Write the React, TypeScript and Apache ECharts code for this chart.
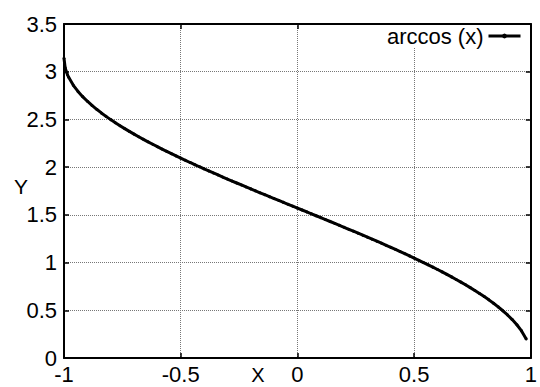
import React, { useEffect, useRef } from "react";
import * as echarts from "echarts";

const xValues: number[] = [
  -1.0, -0.995, -0.99, -0.985, -0.98, -0.96, -0.94, -0.92, -0.9, -0.88, -0.86, -0.84, -0.82,
  -0.8, -0.78, -0.76, -0.74, -0.72, -0.7, -0.68, -0.66, -0.64, -0.62,
  -0.6, -0.58, -0.56, -0.54, -0.52, -0.5, -0.48, -0.46, -0.44, -0.42,
  -0.4, -0.38, -0.36, -0.34, -0.32, -0.3, -0.28, -0.26, -0.24, -0.22,
  -0.2, -0.18, -0.16, -0.14, -0.12, -0.1, -0.08, -0.06, -0.04, -0.02,
  0.0, 0.02, 0.04, 0.06, 0.08, 0.1, 0.12, 0.14, 0.16, 0.18,
  0.2, 0.22, 0.24, 0.26, 0.28, 0.3, 0.32, 0.34, 0.36, 0.38,
  0.4, 0.42, 0.44, 0.46, 0.48, 0.5, 0.52, 0.54, 0.56, 0.58,
  0.6, 0.62, 0.64, 0.66, 0.68, 0.7, 0.72, 0.74, 0.76, 0.78,
  0.8, 0.82, 0.84, 0.86, 0.88, 0.9, 0.92, 0.94, 0.96, 0.98,
];

const arccosValues: number[] = [
  3.1416, 3.0415, 3.0001, 2.9682, 2.9413, 2.8578, 2.7934, 2.7389, 2.6906, 2.6467, 2.6061, 2.5681, 2.5322,
  2.4981, 2.4655, 2.4341, 2.4039, 2.3746, 2.3462, 2.3186, 2.2916, 2.2653, 2.2395,
  2.2143, 2.1895, 2.1652, 2.1412, 2.1177, 2.0944, 2.0715, 2.0488, 2.0264, 2.0042,
  1.9823, 1.9606, 1.9391, 1.9177, 1.8965, 1.8755, 1.8546, 1.8338, 1.8132, 1.7926,
  1.7722, 1.7518, 1.7315, 1.7113, 1.6911, 1.671, 1.6509, 1.6308, 1.6108, 1.5908,
  1.5708, 1.5508, 1.5308, 1.5108, 1.4907, 1.4706, 1.4505, 1.4303, 1.4101, 1.3898,
  1.3694, 1.349, 1.3284, 1.3078, 1.287, 1.2661, 1.2451, 1.2239, 1.2025, 1.181,
  1.1593, 1.1374, 1.1152, 1.0928, 1.0701, 1.0472, 1.0239, 1.0004, 0.9764, 0.9521,
  0.9273, 0.9021, 0.8763, 0.85, 0.823, 0.7954, 0.767, 0.7377, 0.7075, 0.6761,
  0.6435, 0.6094, 0.5735, 0.5355, 0.4949, 0.451, 0.4027, 0.3482, 0.2838, 0.2003,
];

const seriesName = "arccos (x)";
const xAxisName = "X";
const yAxisName = "Y";

const FONT = "'Liberation Sans', Arial, sans-serif";

export default function App() {
  const ref = useRef<HTMLDivElement>(null);

  useEffect(() => {
    document.body.style.margin = "0";
    if (!ref.current) return;
    const chart = echarts.init(ref.current, null, { renderer: "svg" });
    const data = xValues.map((x, i) => [x, arccosValues[i]]);

    const axisLabel = { color: "#000", fontSize: 22, fontFamily: FONT };
    const axisLine = { show: true, onZero: false, lineStyle: { color: "#000", width: 2 } };
    const axisTick = { show: true, inside: true, length: 5, lineStyle: { color: "#000", width: 1.5 } };
    const splitLine = { show: true, lineStyle: { color: "#777", width: 1, type: [1, 1] as any } };

    chart.setOption({
      animation: false,
      backgroundColor: "#fff",
      grid: { left: 64, right: 7, top: 24, bottom: 29, containLabel: false },
      xAxis: [
        {
          type: "value",
          min: -1,
          max: 1,
          interval: 0.5,
          position: "bottom",
          axisLine,
          axisTick,
          axisLabel: { ...axisLabel, margin: 5 },
          splitLine,
        },
        {
          type: "value",
          min: -1,
          max: 1,
          interval: 0.5,
          position: "top",
          axisLine,
          axisTick,
          axisLabel: { show: false },
          splitLine: { show: false },
        },
      ],
      yAxis: [
        {
          type: "value",
          min: 0,
          max: 3.5,
          interval: 0.5,
          position: "left",
          axisLine,
          axisTick,
          axisLabel: { ...axisLabel, margin: 7 },
          splitLine,
        },
        {
          type: "value",
          min: 0,
          max: 3.5,
          interval: 0.5,
          position: "right",
          axisLine,
          axisTick,
          axisLabel: { show: false },
          splitLine: { show: false },
        },
      ],
      legend: {
        show: true,
        data: [seriesName],
        right: 18,
        top: 25,
        align: "right",
        itemWidth: 32,
        itemHeight: 6,
        lineStyle: { width: 3, color: "#000" },
        textStyle: { color: "#000", fontSize: 22, fontFamily: FONT },
        backgroundColor: "#fff",
        padding: [0, 0, 0, 2],
      },
      graphic: [
        {
          type: "text",
          x: 258,
          y: 375,
          style: {
            text: xAxisName,
            fill: "#000",
            font: `20px ${FONT}`,
            align: "center",
            verticalAlign: "middle",
          },
        },
        {
          type: "text",
          x: 21,
          y: 186,
          style: {
            text: yAxisName,
            fill: "#000",
            font: `21px ${FONT}`,
            align: "center",
            verticalAlign: "middle",
          },
        },
      ],
      series: [
        {
          name: seriesName,
          type: "line",
          data,
          xAxisIndex: 0,
          yAxisIndex: 0,
          symbol: "circle",
          symbolSize: 3,
          showSymbol: true,
          itemStyle: { color: "#000" },
          lineStyle: { color: "#000", width: 3 },
          z: 5,
        },
      ],
    });

    return () => chart.dispose();
  }, []);

  return <div ref={ref} style={{ width: 540, height: 387 }} />;
}
